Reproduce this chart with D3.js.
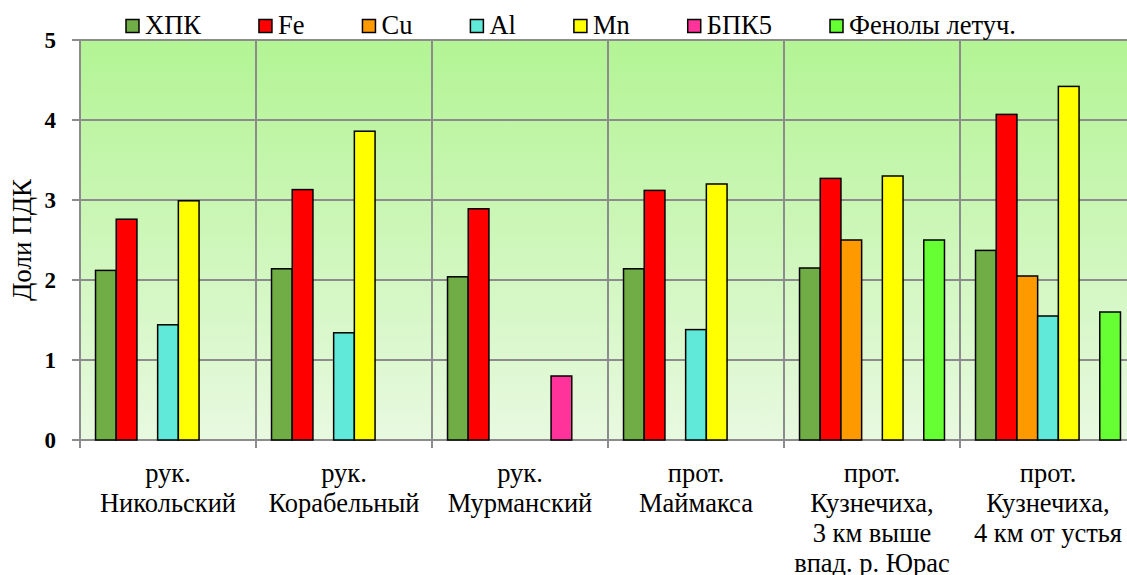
<!DOCTYPE html>
<html><head><meta charset="utf-8">
<script src="https://cdn.jsdelivr.net/npm/d3@7"></script>
<style>body{margin:0;background:#fff;}</style>
</head>
<body>
<svg id="chart" width="1127" height="575"></svg>
<script>
const categories = [
  ["рук.", "Никольский"],
  ["рук.", "Корабельный"],
  ["рук.", "Мурманский"],
  ["прот.", "Маймакса"],
  ["прот.", "Кузнечиха,", "3 км выше", "впад. р. Юрас"],
  ["прот.", "Кузнечиха,", "4 км от устья"]
];
const seriesNames = ["ХПК", "Fe", "Cu", "Al", "Mn", "БПК5", "Фенолы летуч."];
const seriesColors = ["#70ad47", "#ff0000", "#ff9900", "#60e8d8", "#ffff00", "#ff3399", "#66ff33"];
const valKhPK   = [2.12, 2.14, 2.04, 2.14, 2.15, 2.37];
const valFe     = [2.76, 3.13, 2.89, 3.12, 3.27, 4.07];
const valCu     = [0, 0, 0, 0, 2.50, 2.05];
const valAl     = [1.44, 1.34, 0, 1.38, 0, 1.55];
const valMn     = [2.99, 3.86, 0, 3.20, 3.30, 4.42];
const valBPK5   = [0, 0, 0.80, 0, 0, 0];
const valPhenol = [0, 0, 0, 0, 2.50, 1.60];
const seriesValues = [valKhPK, valFe, valCu, valAl, valMn, valBPK5, valPhenol];
const yTicks = [0, 1, 2, 3, 4, 5];
const yTitle = "Доли ПДК";

const FONT = "'Liberation Serif', 'Times New Roman', serif";
const svg = d3.select("#chart");
const pLeft = 80, pTop = 40, pBottom = 440, catW = 176;
const pRight = pLeft + catW * categories.length;

const x0 = d3.scaleBand().domain(d3.range(categories.length)).range([pLeft, pRight]).paddingInner(0).paddingOuter(0);
const x1 = d3.scaleBand().domain(d3.range(seriesNames.length)).range([0, x0.bandwidth()]).paddingInner(0).paddingOuter(0.75);
const y = d3.scaleLinear().domain([0, 5]).range([pBottom, pTop]);

// background gradient
const defs = svg.append("defs");
const grad = defs.append("linearGradient").attr("id", "bg").attr("x1", 0).attr("y1", 0).attr("x2", 0).attr("y2", 1);
grad.append("stop").attr("offset", "0%").attr("stop-color", "#b3f494");
grad.append("stop").attr("offset", "100%").attr("stop-color", "#e8f9e0");
svg.append("rect").attr("x", pLeft).attr("y", pTop).attr("width", pRight - pLeft).attr("height", pBottom - pTop).attr("fill", "url(#bg)");

const gridColor = "#8c8c8c";
svg.append("g").selectAll("line").data(yTicks).join("line")
  .attr("x1", pLeft - 8).attr("x2", pRight)
  .attr("y1", d => y(d)).attr("y2", d => y(d))
  .attr("stroke", gridColor).attr("stroke-width", 2);
svg.append("g").selectAll("line").data(d3.range(categories.length + 1)).join("line")
  .attr("x1", d => pLeft + d * catW).attr("x2", d => pLeft + d * catW)
  .attr("y1", pTop).attr("y2", pBottom + 8)
  .attr("stroke", gridColor).attr("stroke-width", 2);

// bars
const barData = [];
seriesValues.forEach((vals, s) => vals.forEach((v, c) => { if (v > 0) barData.push({s, c, v}); }));
svg.append("g").selectAll("rect").data(barData).join("rect")
  .attr("x", d => x0(d.c) + x1(d.s))
  .attr("width", x1.bandwidth())
  .attr("y", d => y(d.v))
  .attr("height", d => y(0) - y(d.v))
  .attr("fill", d => seriesColors[d.s])
  .attr("stroke", "#000").attr("stroke-width", 1.5);

// y tick labels
svg.append("g").selectAll("text").data(yTicks).join("text")
  .attr("x", 56).attr("y", d => y(d)).attr("dy", "0.35em")
  .style("font-family", FONT)
  .attr("text-anchor", "end").attr("font-weight", "bold").attr("font-size", 23)
  .text(d => d);

// y title
svg.append("text").attr("transform", `translate(31,${(pTop + pBottom) / 2}) rotate(-90)`)
  .style("font-family", FONT)
  .attr("text-anchor", "middle").attr("font-size", 27).text(yTitle);

// x labels
const xl = svg.append("g").selectAll("text").data(categories).join("text")
  .style("font-family", FONT)
  .attr("text-anchor", "middle").attr("font-size", 26.5);
xl.each(function(lines, i) {
  const t = d3.select(this);
  lines.forEach((ln, k) => {
    t.append("tspan").attr("x", x0(i) + x0.bandwidth() / 2).attr("y", 482 + k * 30).text(ln);
  });
});

// legend
const lg = svg.append("g");
let lx = 126;
seriesNames.forEach((name, i) => {
  lg.append("rect").attr("x", lx).attr("y", 19.5).attr("width", 13).attr("height", 13)
    .attr("fill", seriesColors[i]).attr("stroke", "#000").attr("stroke-width", 1.5);
  const t = lg.append("text").attr("x", lx + 19).attr("y", 34).style("font-family", FONT).attr("font-size", 26.5).text(name);
  const w = t.node().getComputedTextLength();
  lx = lx + 19 + w + 58;
});
</script>
</body></html>
